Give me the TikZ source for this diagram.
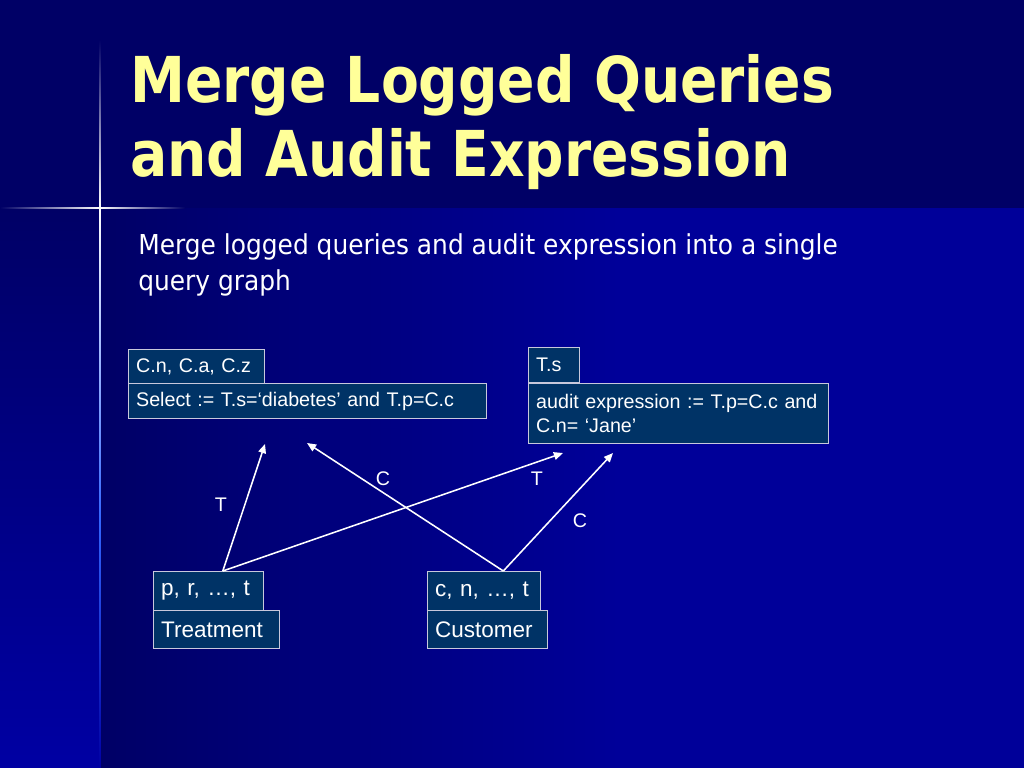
\documentclass[tikz,border=0pt]{standalone}
\usepackage{fontspec}
\setmainfont{Liberation Sans}
\newfontfamily\titlefont[FakeStretch=0.872]{DejaVu Sans}
\newfontfamily\bodyfont[FakeStretch=0.908]{DejaVu Sans}
\usepackage{tikz}
\usetikzlibrary{calc,arrows.meta,positioning}
\definecolor{navyc}{HTML}{000066}
\definecolor{mainc}{HTML}{000099}
\definecolor{stripc}{HTML}{0000A3}
\definecolor{boxfill}{HTML}{003366}
\definecolor{boxline}{HTML}{C8C8DC}
\definecolor{titlec}{HTML}{FFFF99}
\definecolor{glowc}{HTML}{3366FF}
\tikzset{
  ar/.style={-{Triangle[length=6.5pt,width=5.5pt]},line width=1.1pt,white},
  box/.style={draw=boxline,line width=0.6pt,fill=boxfill,text=white,anchor=north west,align=left,
    inner xsep=5.5pt,inner ysep=0pt,font=\fontsize{14}{17}\selectfont},
  bigbox/.style={box,font=\fontsize{16}{19}\selectfont},
  lbl/.style={text=white,font=\fontsize{14}{17}\selectfont},
  ttl/.style={anchor=base west,inner sep=0pt,text=titlec,font=\titlefont\bfseries\fontsize{45}{52}\selectfont}
}
\begin{document}
\begin{tikzpicture}[x=0.025cm,y=-0.025cm]
\useasboundingbox (0,0) rectangle (1024,768);
% background
\fill[navyc] (0,0) rectangle (1024,208);
\shade[left color=navyc,right color=mainc] (100,208) rectangle (620,768);
\fill[mainc] (620,208) rectangle (1024,768);
\shade[top color=navyc,bottom color=stripc] (0,208) rectangle (100,768);
% glowing cross
\shade[top color=navyc,bottom color=white] (99.2,40) rectangle (100.8,208);
\shade[top color=white,bottom color=glowc] (99.2,208) rectangle (100.8,520);
\shade[top color=glowc,bottom color=stripc] (99.2,520) rectangle (100.8,768);
\shade[left color=navyc,right color=white] (0,207.2) rectangle (100,208.8);
\shade[left color=white,right color=navyc] (100,207.2) rectangle (185,208.8);
% title
\node[ttl] (title1) at (130,103) {Merge Logged Queries};
\node[ttl] (title2) at (130,177) {and Audit Expression};
\node[anchor=base west,inner sep=0pt,align=left,text=white,font=\bodyfont\fontsize{19.5}{25}\selectfont]
  (intro) at (138,290) {Merge logged queries and audit expression into a single\\query graph};
% query boxes
\node[box,minimum width=96.7pt,minimum height=24.2pt,text width=85.7pt] (proj) at (128,349) {C.n, C.a, C.z};
\node[box,minimum width=254.6pt,minimum height=24.9pt,text width=243.6pt] (sel) at (128,383) {Select := T.s=‘diabetes’ and T.p=C.c};
\node[box,minimum width=36.3pt,minimum height=24.9pt,text width=25.3pt] (aproj) at (528,347) {T.s};
\node[box,minimum width=213.4pt,minimum height=42.7pt,text width=202.4pt] (audit) at (528,383) {audit expression := T.p=C.c and\\C.n= ‘Jane’};
% tables
\node[bigbox,minimum width=78.2pt,minimum height=27.7pt,text width=67.2pt] (tcols) at (153,571) {p, r, …, t};
\node[bigbox,minimum width=89.6pt,minimum height=27pt,text width=78.6pt] (treat) at (153,610) {Treatment};
\node[bigbox,minimum width=80.4pt,minimum height=27.7pt,text width=69.4pt] (ccols) at (427,571) {c, n, …, t};
\node[bigbox,minimum width=85.4pt,minimum height=27pt,text width=74.4pt] (cust) at (427,610) {Customer};
% edges
\coordinate (tsrc) at ($(tcols.north west)!0.63!(tcols.north east)$);
\coordinate (csrc) at ($(ccols.north west)!0.67!(ccols.north east)$);
\coordinate (selT) at (265,444);
\coordinate (selC) at (307,443);
\coordinate (audT) at (563,453);
\coordinate (audC) at (613,453);
\draw[ar] (tsrc) -- (selT);
\draw[ar] (tsrc) -- (audT);
\draw[ar] (csrc) -- (selC);
\draw[ar] (csrc) -- (audC);
\node[lbl] (lT1) at (221,505) {T};
\node[lbl] (lC1) at (383,479) {C};
\node[lbl] (lT2) at (537,479) {T};
\node[lbl] (lC2) at (580,521) {C};
\end{tikzpicture}
\end{document}
